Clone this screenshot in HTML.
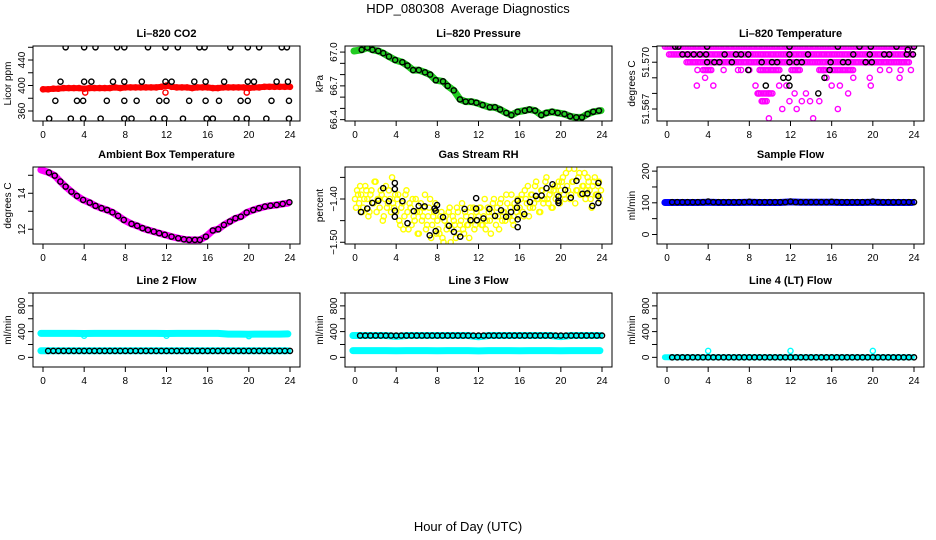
<!DOCTYPE html>
<html><head><meta charset="utf-8"><style>
html,body{margin:0;padding:0;background:#fff;}
svg{display:block;font-family:"Liberation Sans",Arial,sans-serif;}
</style></head><body>
<svg id="chart" width="936" height="540" viewBox="0 0 936 540">
<text x="468" y="13" text-anchor="middle" font-size="13">HDP_080308&#160; Average Diagnostics</text>
<text x="468" y="531" text-anchor="middle" font-size="13">Hour of Day (UTC)</text>
</svg>
<script>
// ---------- DATA ----------
// CO2
const co2RedHours=[0,0.5,1,1.5,2,2.5,3,3.5,4,4.5,5,5.5,6,6.5,7,7.5,8,8.5,9,9.5,10,10.5,11,11.5,12,12.5,13,13.5,14,14.5,15,15.5,16,16.5,17,17.5,18,18.5,19,19.5,20,20.5,21,21.5,22,22.5,23,23.5,24];
const co2Red=[394,394,395,395,396,396,396,396,395,396,396,396,396,396,397,396,397,397,397,397,397,397,397,398,400,398,397,397,397,396,397,397,397,396,396,397,397,397,397,397,396,397,397,398,398,398,398,398,398];
const co2RedOutHours=[4.1,11.9,19.8];
const co2RedOut=[389,389,389];
const co2BlackHours=[2.2,4.0,5.1,7.2,7.9,10.2,11.9,13.1,15.2,15.7,18.2,19.9,21.0,23.2,23.7, 1.7,4.0,4.7,6.8,7.9,9.6,11.9,12.5,14.7,15.8,17.6,19.9,20.5,22.7,23.8, 1.2,3.3,3.9,6.2,7.9,9.1,11.3,12.0,14.2,15.8,17.1,19.2,19.9,22.2,23.9, 0.6,2.7,3.9,5.6,7.9,8.6,10.7,11.8,13.6,15.9,16.5,18.8,19.8,21.7,23.9];
const co2Black=[460,460,460,460,460,460,460,460,460,460,460,460,460,460,460, 406,406,406,406,406,406,406,406,406,406,406,406,406,406,406, 376,376,376,376,376,376,376,376,376,376,376,376,376,376,376, 348,348,348,348,348,348,348,348,348,348,348,348,348,348,348];
// Pressure
const presHours=[0.65,1.2,1.7,2.26,2.75,3.3,3.9,4.6,5.1,5.65,6.2,6.8,7.3,7.85,8.55,9.0,9.6,10.2,10.75,11.3,11.8,12.4,13.1,13.6,14.1,14.7,15.2,15.8,16.5,16.95,17.5,18.1,18.6,19.15,19.7,20.35,20.9,21.5,22.05,22.6,23.15,23.7];
const presBlack=[67.02,67.04,67.02,67.01,66.99,66.96,66.93,66.91,66.88,66.84,66.84,66.82,66.80,66.75,66.74,66.70,66.66,66.58,66.56,66.56,66.55,66.53,66.51,66.51,66.49,66.46,66.44,66.47,66.48,66.49,66.48,66.44,66.46,66.47,66.46,66.45,66.43,66.42,66.42,66.45,66.47,66.48];
const presGreenHours=[-0.1,0.65,1.2,1.7,2.26,2.75,3.3,3.9,4.6,5.1,5.65,6.2,6.8,7.3,7.85,8.55,9.0,9.6,10.2,10.75,11.3,11.8,12.4,13.1,13.6,14.1,14.7,15.2,15.8,16.5,16.95,17.5,18.1,18.6,19.15,19.7,20.35,20.9,21.5,22.05,22.6,23.15,23.9];
const presGreen=[67.01,67.02,67.04,67.02,67.01,66.99,66.96,66.93,66.91,66.88,66.84,66.84,66.82,66.80,66.75,66.74,66.70,66.66,66.58,66.56,66.56,66.55,66.53,66.51,66.51,66.49,66.46,66.44,66.47,66.48,66.49,66.48,66.44,66.46,66.47,66.46,66.45,66.43,66.42,66.42,66.45,66.47,66.48];
// Li-820 temperature
const tempRunValues=[51.571,51.5705,51.570,51.5695,51.5695,51.5695,51.5695,51.5695,51.568,51.5675];
const tempRunStart=[-0.2,0.2,1.9,3.5,9.0,12.1,14.8,16.0,8.8,9.2];
const tempRunEnd=[24.0,24.0,23.5,4.3,11.0,13.0,15.5,18.2,10.3,9.8];
const tempMagHours=[2.96,2.9,3.7,4.5,5.5,6.9,7.2,8.0,8.6,8.9,9.3,9.9,11.2,10.9,11.6,11.9,12.4,12.6,13.1,13.5,13.9,14.2,14.8,15.2,15.5,16.0,16.6,16.8,17.6,18.1,19.7,19.8,20.7,21.6,22.7,22.6,23.7,9.9];
const tempMag=[51.5695,51.5685,51.569,51.5685,51.5695,51.5695,51.5695,51.5695,51.5685,51.568,51.5675,51.568,51.567,51.5685,51.5685,51.5675,51.568,51.567,51.5675,51.568,51.5675,51.5664,51.5675,51.5695,51.569,51.5685,51.567,51.5685,51.568,51.569,51.569,51.5685,51.5695,51.5695,51.5695,51.569,51.5695,51.5664];
const tempBlackHours=[0.8,1.1,3.9,11.9,16.6,18.7,19.8,22.3,24.0, 1.5,2.0,2.6,3.2,3.8,5.6,6.7,7.2,7.9,11.9,13.7,18.1,19.7,21.1,21.6,23.3,23.9, 3.9,4.6,5.1,6.3,9.2,10.2,10.7,11.9,12.6,13.1,15.9,17.1,17.6,19.3,19.9, 7.9,15.8,11.3,11.8,15.3,9.6,11.9,14.7,23.4];
const tempBlack=[51.571,51.571,51.571,51.571,51.571,51.571,51.571,51.571,51.571, 51.5705,51.5705,51.5705,51.5705,51.5705,51.5705,51.5705,51.5705,51.5705,51.5705,51.5705,51.5705,51.5705,51.5705,51.5705,51.5705,51.5705, 51.570,51.570,51.570,51.570,51.570,51.570,51.570,51.570,51.570,51.570,51.570,51.570,51.570,51.570,51.570, 51.5695,51.5695,51.569,51.569,51.569,51.5685,51.5685,51.568,51.5708];
// Ambient box temperature
const boxHours=[0.58,1.14,1.69,2.2,2.76,3.3,3.9,4.54,5.1,5.68,6.23,6.75,7.3,7.85,8.6,9.15,9.67,10.2,10.77,11.29,11.84,12.49,13.14,13.69,14.2,14.76,15.24,15.83,16.5,17.03,17.58,18.16,18.7,19.23,19.79,20.43,20.99,21.57,22.1,22.7,23.29,23.94];
const boxBlack=[15.15,14.98,14.65,14.37,14.09,13.85,13.63,13.48,13.30,13.17,13.07,12.94,12.74,12.52,12.30,12.19,12.06,11.96,11.87,11.78,11.69,11.59,11.50,11.44,11.41,11.41,11.41,11.59,11.93,12.0,12.24,12.43,12.61,12.70,12.93,13.07,13.17,13.26,13.31,13.35,13.41,13.5];
const boxMagHours=[-0.2,0.58,1.14,1.69,2.2,2.76,3.3,3.9,4.54,5.1,5.68,6.23,6.75,7.3,7.85,8.6,9.15,9.67,10.2,10.77,11.29,11.84,12.49,13.14,13.69,14.2,14.76,15.24,15.83,16.5,17.03,17.58,18.16,18.7,19.23,19.79,20.43,20.99,21.57,22.1,22.7,23.29,23.8];
const boxMag=[15.3,15.15,14.98,14.65,14.37,14.09,13.85,13.63,13.48,13.30,13.17,13.07,12.94,12.74,12.52,12.30,12.19,12.06,11.96,11.87,11.78,11.69,11.59,11.50,11.44,11.41,11.41,11.41,11.59,11.93,12.0,12.24,12.43,12.61,12.70,12.93,13.07,13.17,13.26,13.31,13.35,13.41,13.45];
// Gas stream RH
const rhYellowA=[-1.40,-1.38,-1.41,-1.39,-1.42,-1.37,-1.40,-1.43,-1.38,-1.41,-1.36,-1.40,-1.42,-1.39,-1.44,-1.37,-1.41,-1.40,-1.35,-1.42,
-1.43,-1.39,-1.46,-1.41,-1.44,-1.38,-1.47,-1.42,-1.40,-1.45,-1.43,-1.48,-1.41,-1.44,-1.39,-1.46,-1.42,-1.49,-1.44,-1.41,
-1.45,-1.48,-1.43,-1.50,-1.44,-1.46,-1.42,-1.47,-1.45,-1.49,-1.43,-1.46,-1.41,-1.48,-1.44,-1.46,-1.42,-1.45,-1.47,-1.43,
-1.44,-1.42,-1.46,-1.40,-1.45,-1.43,-1.48,-1.41,-1.44,-1.42,-1.47,-1.40,-1.43,-1.45,-1.41,-1.44,-1.39,-1.46,-1.42,-1.40,
-1.42,-1.39,-1.44,-1.40,-1.37,-1.42,-1.39,-1.41,-1.36,-1.40,-1.43,-1.38,-1.40,-1.35,-1.41,-1.38,-1.42,-1.37,-1.39,-1.36,
-1.38,-1.35,-1.40,-1.37,-1.33,-1.39,-1.36,-1.41,-1.38,-1.34,-1.39,-1.37,-1.40,-1.35,-1.38,-1.42,-1.36,-1.39,-1.37,-1.40];
const rhYellowB=[-1.42,-1.39,-1.37,-1.43,-1.40,-1.38,-1.44,-1.39,-1.41,-1.36,-1.43,-1.40,-1.38,-1.45,-1.40,-1.42,-1.38,-1.43,-1.41,-1.39,
-1.40,-1.45,-1.42,-1.47,-1.39,-1.43,-1.41,-1.46,-1.44,-1.40,-1.48,-1.43,-1.45,-1.42,-1.47,-1.44,-1.40,-1.46,-1.43,-1.48,
-1.47,-1.44,-1.49,-1.45,-1.47,-1.43,-1.50,-1.44,-1.46,-1.42,-1.48,-1.45,-1.47,-1.43,-1.46,-1.49,-1.44,-1.42,-1.46,-1.45,
-1.42,-1.46,-1.44,-1.47,-1.42,-1.45,-1.43,-1.40,-1.46,-1.44,-1.41,-1.45,-1.43,-1.39,-1.44,-1.42,-1.45,-1.41,-1.43,-1.44,
-1.40,-1.43,-1.38,-1.41,-1.44,-1.39,-1.42,-1.37,-1.40,-1.43,-1.38,-1.41,-1.36,-1.40,-1.39,-1.42,-1.38,-1.40,-1.37,-1.41,
-1.36,-1.39,-1.34,-1.38,-1.40,-1.36,-1.33,-1.38,-1.35,-1.39,-1.37,-1.34,-1.38,-1.36,-1.40,-1.37,-1.35,-1.39,-1.36,-1.38];
const rhBlackHours=[0.58,1.19,1.68,2.26,2.74,3.29,3.87,3.87,3.87,3.87,4.61,5.10,5.71,6.19,6.77,7.26,7.74,7.84,7.97,7.84,8.55,9.13,9.61,10.23,10.65,11.23,11.77,11.77,11.84,12.48,13.06,13.61,14.19,14.68,15.16,15.74,15.81,15.81,15.81,16.45,17.0,17.58,18.13,18.61,19.19,19.77,19.77,19.77,20.42,20.97,21.52,22.1,22.58,23.06,23.65,23.65,23.65];
const rhBlack=[-1.430,-1.422,-1.409,-1.404,-1.375,-1.405,-1.363,-1.377,-1.427,-1.441,-1.405,-1.456,-1.428,-1.416,-1.417,-1.484,-1.422,-1.427,-1.414,-1.474,-1.442,-1.462,-1.476,-1.487,-1.423,-1.449,-1.398,-1.422,-1.449,-1.445,-1.423,-1.439,-1.426,-1.441,-1.430,-1.420,-1.404,-1.447,-1.465,-1.435,-1.407,-1.393,-1.392,-1.375,-1.366,-1.394,-1.404,-1.409,-1.379,-1.397,-1.358,-1.388,-1.387,-1.416,-1.363,-1.393,-1.409];
// Flows (half-hourly black averages, hourly bands)
const halfHours=[0.5,1,1.5,2,2.5,3,3.5,4,4.5,5,5.5,6,6.5,7,7.5,8,8.5,9,9.5,10,10.5,11,11.5,12,12.5,13,13.5,14,14.5,15,15.5,16,16.5,17,17.5,18,18.5,19,19.5,20,20.5,21,21.5,22,22.5,23,23.5,24];
const bandHours=[-0.2,1,2,3,4,5,6,7,8,9,10,11,12,13,14,15,16,17,18,19,20,21,22,23,23.8];
const sampleBlack=[102,102,102,102,102,102,102,104,102,102,102,102,102,102,102,103,102,102,102,102,102,102,102,104,102,102,102,102,102,102,102,103,102,102,102,102,102,102,102,104,102,102,102,102,102,102,102,102];
const sampleBlue=[101,101,101,101,102,101,101,101,102,101,101,101,103,102,102,102,102,101,101,101,102,101,101,101,101];
const line2Black=[100,100,100,100,100,100,100,100,100,100,100,100,100,100,100,100,100,100,100,100,100,100,100,100,100,100,100,100,100,100,100,100,100,100,100,100,100,100,100,100,100,100,100,100,100,100,100,100];
const line2CyanHi=[372,372,372,372,370,372,372,372,372,372,372,372,370,372,372,372,372,372,362,362,360,362,362,362,365];
const line2CyanLo=[102,102,102,102,102,102,102,102,102,102,102,102,102,102,102,102,102,102,102,102,102,102,102,102,102];
const line2CyanOutHours=[4,12,20];
const line2CyanOut=[336,336,330];
const line3Black=[338,338,338,338,338,338,338,338,338,338,338,338,338,338,338,338,338,338,338,338,338,338,338,338,338,338,338,338,338,338,338,338,338,338,338,338,338,338,338,338,338,338,338,338,338,338,338,338];
const line3CyanHi=[340,340,340,340,325,340,340,340,340,340,340,340,320,340,340,340,340,340,340,340,322,340,340,340,340];
const line3CyanLo=[105,105,105,105,102,105,105,105,102,105,105,105,100,105,105,105,104,105,105,105,102,105,105,105,105];
const line4Black=[0,0,0,0,0,0,0,0,0,0,0,0,0,0,0,0,0,0,0,0,0,0,0,0,0,0,0,0,0,0,0,0,0,0,0,0,0,0,0,0,0,0,0,0,0,0,0,0];
const line4Cyan=[0,0,0,0,0,0,0,0,0,0,0,0,0,0,0,0,0,0,0,0,0,0,0,0,0];
const line4CyanOutHours=[4,12,20];
const line4CyanOut=[100,100,100];
const xTicks=[0,4,8,12,16,20,24];

// ---------- DRAWING ----------
const NS="http://www.w3.org/2000/svg";
const svg=document.getElementById('chart');
const rowTop=[46,167,293], rowBot=[121,244,367];
function el(tag,attrs,parent){const e=document.createElementNS(NS,tag);for(const k in attrs)e.setAttribute(k,attrs[k]);(parent||svg).appendChild(e);return e;}

function makePanel(col,row,key,title,ylab,ymin,ymax,ticks,labels){
  const L=col*312+33,R=col*312+300,T=rowTop[row],B=rowBot[row];
  const g=el('g',{});
  
  
  const sx=h=>L+10+h*(247/24);
  const sy=v=>B-(v-ymin)/(ymax-ymin)*(B-T);
  const marks=el('g',{'clip-path':'url(#clip-'+key+')'},g);
  
  
  const cp=el('clipPath',{id:'clip-'+key},g);
  el('rect',{x:L,y:T,width:R-L,height:B-T},cp);
  const box=el('rect',{x:L,y:T,width:R-L,height:B-T,fill:'none',stroke:'#000','stroke-width':1},g);
  
  
  const t=el('text',{x:(L+R)/2,y:T-9,'text-anchor':'middle','font-size':11,'font-weight':'bold'},g);
  t.textContent=title;
  
  
  const yl=el('text',{x:0,y:0,'text-anchor':'middle','font-size':10,transform:'translate('+(L-22)+','+((T+B)/2)+') rotate(-90)'},g);
  yl.textContent=ylab;
  
  
  ticks.forEach(v=>{
    const y=sy(v);
    const tk=el('line',{x1:L-5,x2:L,y1:y,y2:y,stroke:'#000'},g);
    
    
  });
  labels.forEach(lb=>{
    const y=sy(lb.v);
    const tx=el('text',{x:0,y:0,'text-anchor':'middle','font-size':10,transform:'translate('+(L-8)+','+y+') rotate(-90)'},g);
    tx.textContent=lb.t;
    
    
  });
  xTicks.forEach(h=>{
    const x=sx(h);
    const tk=el('line',{x1:x,x2:x,y1:B,y2:B+5,stroke:'#000'},g);
    
    
    const tx=el('text',{x:x,y:B+17,'text-anchor':'middle','font-size':10},g);
    tx.textContent=String(h);
    
    
  });
  return {g:marks,sx,sy};
}
function points(p,hours,vals,color,name,r,sw){
  hours.forEach((h,i)=>{
    const c=el('circle',{cx:p.sx(h),cy:p.sy(vals[i]),r:r||2.6,fill:'none',stroke:color,'stroke-width':sw||1.4},p.g);
    
    
  });
}
function band(p,hours,vals,color,name,w){
  const d=hours.map((h,i)=>(i?'L':'M')+p.sx(h).toFixed(1)+','+p.sy(vals[i]).toFixed(1)).join('');
  const pa=el('path',{d:d,fill:'none',stroke:color,'stroke-width':w||7,'stroke-linecap':'round','stroke-linejoin':'round'},p.g);
  
  
}
const rng=(a,b,s)=>{const o=[];for(let v=a;v<=b+1e-9;v+=s)o.push(+v.toFixed(4));return o;};

// Panel 1: CO2
let p=makePanel(0,0,'co2','Li\u2013820 CO2','Licor ppm',344.3,462,[360,380,400,420,440,460],[{v:360,t:'360'},{v:400,t:'400'},{v:440,t:'440'}]);
band(p,co2RedHours,co2Red,'#ff0000','co2-red-band',6);
points(p,co2RedHours,co2Red,'#ff0000','co2-red-point');
points(p,co2RedOutHours,co2RedOut,'#ff0000','co2-red-outlier');
points(p,co2BlackHours,co2Black,'#000','co2-hourly-point');

// Panel 2: Pressure
p=makePanel(1,0,'pressure','Li\u2013820 Pressure','kPa',66.388,67.054,[66.4,66.5,66.6,66.7,66.8,66.9,67.0],[{v:66.4,t:'66.4'},{v:66.7,t:'66.7'},{v:67.0,t:'67.0'}]);
band(p,presGreenHours,presGreen,'#22cc22','pressure-green-band',7);
points(p,presHours,presBlack,'#000','pressure-hourly-point');

// Panel 3: Temperature
p=makePanel(2,0,'temperature','Li\u2013820 Temperature','degrees C',51.56623,51.57104,[51.567,51.568,51.569,51.570,51.571],[{v:51.567,t:'51.567'},{v:51.570,t:'51.570'}]);
tempRunValues.forEach((v,i)=>{
  const hs=rng(tempRunStart[i],tempRunEnd[i],0.16);
  points(p,hs,hs.map(()=>v),'#ff00ff','temperature-magenta-point');
});
points(p,tempMagHours,tempMag,'#ff00ff','temperature-magenta-point');
points(p,tempBlackHours,tempBlack,'#000','temperature-hourly-point');

// Panel 4: Ambient Box Temperature
p=makePanel(0,1,'box-temp','Ambient Box Temperature','degrees C',11.18,15.46,[12,13,14,15],[{v:12,t:'12'},{v:14,t:'14'}]);
band(p,boxMagHours,boxMag,'#ff00ff','box-temp-magenta-band',7);
points(p,boxHours,boxBlack,'#000','box-temp-hourly-point');

// Panel 5: Gas Stream RH
p=makePanel(1,1,'rh','Gas Stream RH','percent',-1.504,-1.326,[-1.50,-1.45,-1.40,-1.35],[{v:-1.50,t:'\u22121.50'},{v:-1.40,t:'\u22121.40'}]);
points(p,rhYellowA.map((v,i)=>i*0.2),rhYellowA,'#ffff00','rh-yellow-point');
points(p,rhYellowB.map((v,i)=>0.1+i*0.2),rhYellowB,'#ffff00','rh-yellow-point');
points(p,rhBlackHours,rhBlack,'#000','rh-hourly-point');

// Panel 6: Sample Flow
p=makePanel(2,1,'sample-flow','Sample Flow','ml/min',-30,213,[0,50,100,150,200],[{v:0,t:'0'},{v:100,t:'100'},{v:200,t:'200'}]);
band(p,bandHours,sampleBlue,'#0000ff','sample-flow-blue-band',7);
points(p,halfHours,sampleBlack,'#000','sample-flow-point');

// Panel 7: Line 2 Flow
const flowTicks=[0,200,400,600,800,1000], flowLabels=[{v:0,t:'0'},{v:400,t:'400'},{v:800,t:'800'}];
p=makePanel(0,2,'line2','Line 2 Flow','ml/min',-150,1000,flowTicks,flowLabels);
band(p,bandHours,line2CyanHi,'#00ffff','line2-cyan-upper-band',7);
band(p,bandHours,line2CyanLo,'#00ffff','line2-cyan-lower-band',7);
points(p,line2CyanOutHours,line2CyanOut,'#00ffff','line2-cyan-outlier');
points(p,halfHours,line2Black,'#000','line2-point');

// Panel 8: Line 3 Flow
p=makePanel(1,2,'line3','Line 3 Flow','ml/min',-150,1000,flowTicks,flowLabels);
band(p,bandHours,line3CyanHi,'#00ffff','line3-cyan-upper-band',7);
band(p,bandHours,line3CyanLo,'#00ffff','line3-cyan-lower-band',7);
points(p,halfHours,line3Black,'#000','line3-point');

// Panel 9: Line 4 Flow
p=makePanel(2,2,'line4','Line 4 (LT) Flow','ml/min',-150,1000,flowTicks,flowLabels);
band(p,bandHours,line4Cyan,'#00ffff','line4-cyan-band',6);
points(p,line4CyanOutHours,line4CyanOut,'#00ffff','line4-cyan-outlier');
points(p,halfHours,line4Black,'#000','line4-point');
</script>
</body></html>
